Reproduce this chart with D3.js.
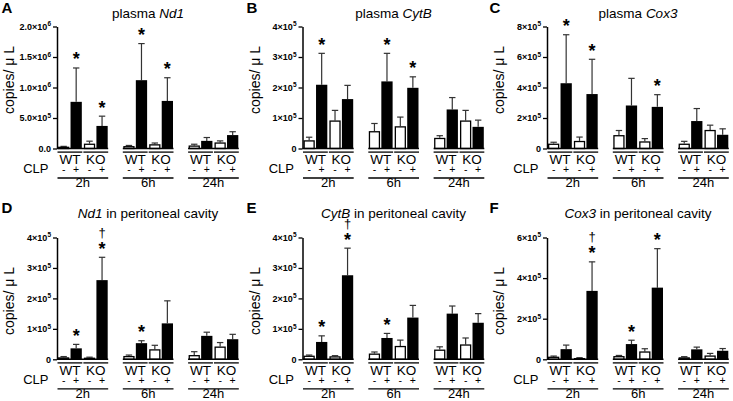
<!DOCTYPE html>
<html>
<head>
<meta charset="utf-8">
<script src="https://cdn.jsdelivr.net/npm/d3@7"></script>
<style>
  html, body { margin: 0; padding: 0; background: #fff; }
  svg { display: block; }
  text { font-family: 'Liberation Sans', Arial, Helvetica, sans-serif; fill: #000; }
</style>
</head>
<body>
<script>
// ---------- DATA (values in units of 1e5 copies/µL) ----------
const timePoints = ["2h", "6h", "24h"];
const genotypes = ["WT", "KO"];
const clpStates = ["-", "+"];

// order of 12 bars: 2h WT-, 2h WT+, 2h KO-, 2h KO+, 6h ..., 24h ...
const meanA = [0.3, 7.65, 0.8, 3.7, 0.4, 11.2, 0.7, 7.8, 0.5, 1.25, 1.0, 2.2];
const semA  = [0.05, 5.55, 0.4, 1.6, 0.1, 6.0, 0.2, 3.8, 0.2, 0.55, 0.25, 0.55];
const meanB = [0.27, 2.09, 0.92, 1.62, 0.57, 2.2, 0.73, 1.99, 0.35, 1.28, 0.92, 0.71];
const semB  = [0.1, 1.03, 0.33, 0.45, 0.25, 0.92, 0.3, 0.36, 0.07, 0.39, 0.33, 0.22];
const meanC = [0.32, 4.28, 0.5, 3.57, 0.88, 2.82, 0.47, 2.73, 0.32, 1.8, 1.22, 0.9];
const semC  = [0.09, 3.18, 0.25, 2.28, 0.3, 1.78, 0.18, 0.8, 0.15, 0.82, 0.31, 0.39];
const meanD = [0.066, 0.36, 0.055, 2.6, 0.11, 0.53, 0.33, 1.18, 0.14, 0.77, 0.42, 0.66];
const semD  = [0.024, 0.13, 0.015, 0.75, 0.03, 0.08, 0.13, 0.74, 0.11, 0.12, 0.13, 0.16];
const meanE = [0.12, 0.57, 0.1, 2.76, 0.19, 0.7, 0.44, 1.37, 0.32, 1.5, 0.49, 1.2];
const semE  = [0.02, 0.2, 0.02, 0.89, 0.05, 0.15, 0.19, 0.4, 0.09, 0.25, 0.21, 0.3];
const meanF = [0.13, 0.5, 0.065, 3.37, 0.16, 0.75, 0.39, 3.53, 0.1, 0.49, 0.19, 0.42];
const semF  = [0.03, 0.2, 0.015, 1.43, 0.03, 0.19, 0.13, 1.92, 0.03, 0.11, 0.1, 0.11];

// significance marks (bar indices)
const starsA = [1, 3, 5, 7];
const starsB = [1, 5, 7];
const starsC = [1, 3, 7];
const starsD = [1, 3, 5];
const starsE = [1, 3, 5];
const starsF = [3, 5, 7];
const daggersD = [3];
const daggersE = [3];
const daggersF = [3];

// y ticks: [value, mantissa, exponent]
const ticksA = [[0, "0.0", ""], [5, "5.0\u00d710", "5"], [10, "1.0\u00d710", "6"], [15, "1.5\u00d710", "6"], [20, "2.0\u00d710", "6"]];
const ticks4 = [[0, "0", ""], [1, "1\u00d710", "5"], [2, "2\u00d710", "5"], [3, "3\u00d710", "5"], [4, "4\u00d710", "5"]];
const ticks8 = [[0, "0", ""], [2, "2\u00d710", "5"], [4, "4\u00d710", "5"], [6, "6\u00d710", "5"], [8, "8\u00d710", "5"]];
const ticks6 = [[0, "0", ""], [2, "2\u00d710", "5"], [4, "4\u00d710", "5"], [6, "6\u00d710", "5"]];

const panels = [
  { letter: "A", title: ["plasma ", "Nd1", ""], mean: meanA, sem: semA, max: 20, ticks: ticksA, stars: starsA, daggers: [], row: 0, col: 0 },
  { letter: "B", title: ["plasma ", "CytB", ""], mean: meanB, sem: semB, max: 4, ticks: ticks4, stars: starsB, daggers: [], row: 0, col: 1 },
  { letter: "C", title: ["plasma ", "Cox3", ""], mean: meanC, sem: semC, max: 8, ticks: ticks8, stars: starsC, daggers: [], row: 0, col: 2 },
  { letter: "D", title: ["", "Nd1", " in peritoneal cavity"], mean: meanD, sem: semD, max: 4, ticks: ticks4, stars: starsD, daggers: daggersD, row: 1, col: 0 },
  { letter: "E", title: ["", "CytB", " in peritoneal cavity"], mean: meanE, sem: semE, max: 4, ticks: ticks4, stars: starsE, daggers: daggersE, row: 1, col: 1 },
  { letter: "F", title: ["", "Cox3", " in peritoneal cavity"], mean: meanF, sem: semF, max: 6, ticks: ticks6, stars: starsF, daggers: daggersF, row: 1, col: 2 }
];

// ---------- LAYOUT ----------
const rows = [
  { y0: 148.5, yTop: 26.5, titleY: 17.5, letterY: 12.5, labelY: 80 },
  { y0: 359.3, yTop: 237.5, titleY: 217.5, letterY: 212.5, labelY: 301 }
];
const cols = [
  { axisX: 57, letterX: 1.5 },
  { axisX: 302.5, letterX: 246.5 },
  { axisX: 547, letterX: 489.5 }
];

const svg = d3.select("body").append("svg").attr("width", 733).attr("height", 401);

panels.forEach(p => {
  const R = rows[p.row], C = cols[p.col];
  const ax = C.axisX, y0 = R.y0;
  const g = svg.append("g");

  const y = d3.scaleLinear().domain([0, p.max]).range([y0, R.yTop]);
  const gx = d3.scaleBand().domain(timePoints).range([ax + 1, ax + 1 + 180.3]).paddingInner(0.239).paddingOuter(0);
  const genoX = d3.scaleBand().domain(genotypes).range([0, gx.bandwidth()]).paddingInner(0.08);
  const clpX = d3.scaleBand().domain(clpStates).range([0, genoX.bandwidth()]).paddingInner(0.1);

  const data = p.mean.map((m, i) => ({
    i, mean: m, sem: p.sem[i],
    t: timePoints[Math.floor(i / 4)],
    geno: genotypes[Math.floor(i / 2) % 2],
    clp: clpStates[i % 2]
  }));
  const bx = d => gx(d.t) + genoX(d.geno) + clpX(d.clp);
  const bw = clpX.bandwidth();

  // panel letter
  g.append("text").attr("x", C.letterX).attr("y", R.letterY)
    .attr("font-size", 15).attr("font-weight", "bold").text(p.letter);

  // title
  const tt = g.append("text").attr("x", ax + 91).attr("y", R.titleY)
    .attr("text-anchor", "middle").attr("font-size", 13.5);
  tt.append("tspan").text(p.title[0]);
  tt.append("tspan").attr("font-style", "italic").text(p.title[1]);
  tt.append("tspan").text(p.title[2]);

  // y label
  g.append("text")
    .attr("transform", `translate(${ax - 43},${R.labelY}) rotate(-90)`)
    .attr("text-anchor", "middle").attr("font-size", 14)
    .text("copies/ \u03bc L");

  // error bars
  const eb = g.append("g").attr("stroke", "#333").attr("stroke-width", 1.2);
  data.forEach(d => {
    const cx = bx(d) + bw / 2;
    eb.append("line").attr("x1", cx).attr("x2", cx).attr("y1", y(d.mean)).attr("y2", y(d.mean + d.sem));
    eb.append("line").attr("x1", cx - 3.2).attr("x2", cx + 3.2).attr("y1", y(d.mean + d.sem)).attr("y2", y(d.mean + d.sem));
  });

  // bars
  g.selectAll("rect.bar").data(data).join("rect")
    .attr("class", "bar")
    .attr("x", d => d.clp === "-" ? bx(d) + 0.65 : bx(d))
    .attr("width", d => d.clp === "-" ? bw - 1.3 : bw)
    .attr("y", d => y(d.mean) + (d.clp === "-" ? 0.65 : 0))
    .attr("height", d => Math.max(0, y0 - y(d.mean) - (d.clp === "-" ? 0.65 : 0)))
    .attr("fill", d => d.clp === "-" ? "#fff" : "#000")
    .attr("stroke", d => d.clp === "-" ? "#000" : "none")
    .attr("stroke-width", 1.3);

  // y axis
  const yAxis = d3.axisLeft(y)
    .tickValues(p.ticks.map(t => t[0]))
    .tickSize(4).tickSizeOuter(0).tickPadding(2).tickFormat(() => "");
  const ag = g.append("g").attr("transform", `translate(${ax},0)`).call(yAxis);
  ag.select(".domain").attr("stroke", "#000").attr("stroke-width", 1.5);
  ag.selectAll(".tick line").attr("stroke", "#000").attr("stroke-width", 1.3);
  ag.selectAll(".tick text").each(function (v) {
    const t = p.ticks.find(k => k[0] === v);
    const sel = d3.select(this).attr("font-size", 9).attr("font-weight", "bold")
      .attr("font-family", "'Liberation Sans', Arial, sans-serif").attr("fill", "#000");
    sel.append("tspan").text(t[1]);
    if (t[2]) sel.append("tspan").attr("font-size", 6.5).attr("dy", -3.5).text(t[2]);
  });

  // x-axis segments (one per time group) and group labels
  timePoints.forEach((t, k) => {
    g.append("line")
      .attr("x1", k === 0 ? ax : gx(t) - 0.5).attr("x2", gx(t) + gx.bandwidth() + 0.5)
      .attr("y1", y0).attr("y2", y0)
      .attr("stroke", "#000").attr("stroke-width", 1.5);
    g.append("line")
      .attr("x1", gx(t) - 0.5).attr("x2", gx(t) + gx.bandwidth() + 0.5)
      .attr("y1", y0 + 29.5).attr("y2", y0 + 29.5)
      .attr("stroke", "#000").attr("stroke-width", 1.3);
    g.append("text").attr("x", gx(t) + gx.bandwidth() / 2).attr("y", y0 + 38.5)
      .attr("text-anchor", "middle").attr("font-size", 13).text(t);
    genotypes.forEach(ge => {
      const gxs = gx(t) + genoX(ge);
      g.append("line")
        .attr("x1", gxs - 0.5).attr("x2", gxs + genoX.bandwidth() + 0.5)
        .attr("y1", y0 + 3.6).attr("y2", y0 + 3.6)
        .attr("stroke", "#000").attr("stroke-width", 1.3);
      g.append("text").attr("x", gxs + genoX.bandwidth() / 2).attr("y", y0 + 15.5)
        .attr("text-anchor", "middle").attr("font-size", 13.5).text(ge);
      clpStates.forEach(c => {
        g.append("text").attr("x", gxs + clpX(c) + bw / 2).attr("y", y0 + 24.5)
          .attr("text-anchor", "middle").attr("font-size", 10.5).text(c);
      });
    });
  });
  g.append("text").attr("x", ax - 8.5).attr("y", y0 + 24.5)
    .attr("text-anchor", "end").attr("font-size", 13).text("CLP");

  // significance marks
  p.stars.forEach(i => {
    const d = data[i];
    g.append("text").attr("x", bx(d) + bw / 2).attr("y", y(d.mean + d.sem) - 2.5)
      .attr("text-anchor", "middle").attr("font-size", 18).attr("font-weight", "bold").text("*");
  });
  p.daggers.forEach(i => {
    const d = data[i];
    g.append("text").attr("x", bx(d) + bw / 2).attr("y", y(d.mean + d.sem) - 20.5)
      .attr("text-anchor", "middle").attr("font-size", 13).text("\u2020");
  });
});
</script>
</body>
</html>
